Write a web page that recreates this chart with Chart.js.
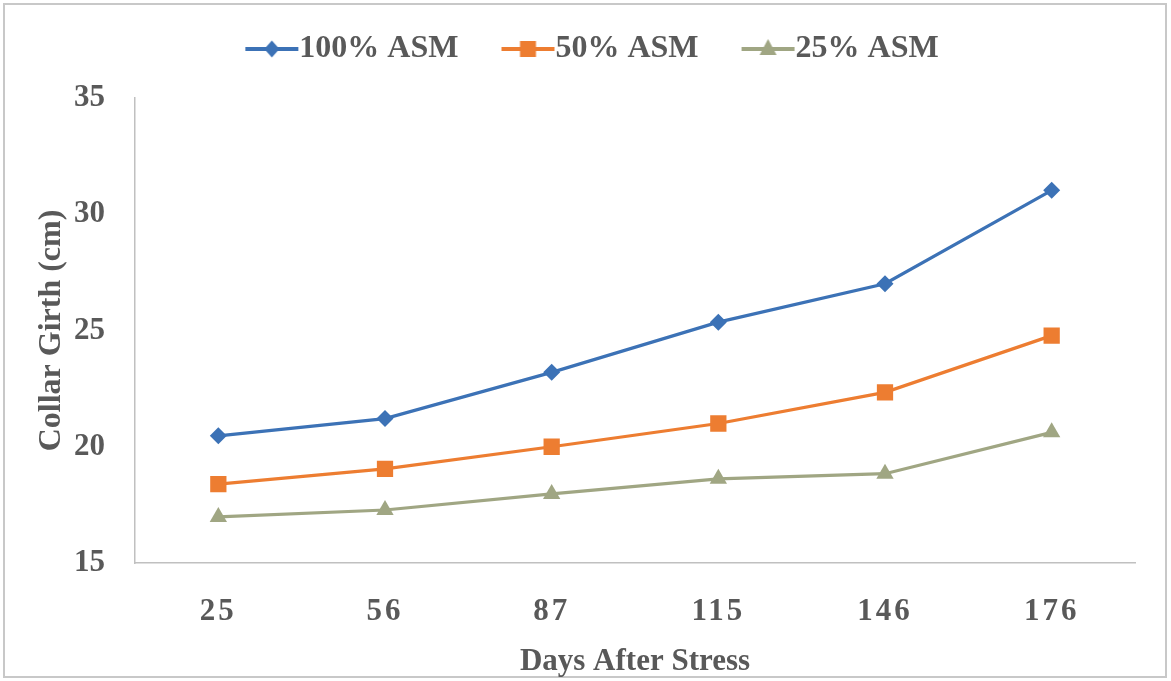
<!DOCTYPE html>
<html>
<head>
<meta charset="utf-8">
<script src="https://cdn.jsdelivr.net/npm/chart.js@4.4.1/dist/chart.umd.min.js"></script>
<style>
html,body{margin:0;padding:0;background:#fff;}
#wrap{width:1171px;height:681px;position:relative;}
</style>
</head>
<body>
<div id="wrap"><canvas id="c" width="1171" height="681"></canvas></div>
<script>
const categories = ['25', '56', '87', '115', '146', '176'];
const seriesNames = ['100% ASM', '50% ASM', '25% ASM'];
const asm100 = [20.47, 21.21, 23.2, 25.36, 27.01, 31.03];
const asm50 = [18.39, 19.05, 20.0, 21.0, 22.34, 24.78];
const asm25 = [16.98, 17.28, 17.97, 18.62, 18.84, 20.62];
const yTicks = [15, 20, 25, 30, 35];

const colors = ['#3C72B6', '#ED7D31', '#A0A683'];
const styles = ['rectRot', 'rect', 'triangle'];
const radii = [8.5, 11.5, 10];
const FONT = "'Liberation Serif', 'Times New Roman', serif";
const TXT = '#595959';
const LEG_W = 51;            // pointStyleWidth
const LEG_I = LEG_W + 32;    // icon image width

function legendIcon(color, style) {
  const c = document.createElement('canvas');
  c.width = LEG_I; c.height = 24;
  const ctx = c.getContext('2d');
  const x1 = LEG_I - 1, x0 = x1 - 53, cy = 12;
  ctx.strokeStyle = color; ctx.lineWidth = 4;
  ctx.beginPath(); ctx.moveTo(x0, cy); ctx.lineTo(x1, cy); ctx.stroke();
  ctx.fillStyle = color;
  const cx = (x0 + x1) / 2;
  ctx.beginPath();
  if (style === 'rectRot') { ctx.moveTo(cx, cy-8.5); ctx.lineTo(cx+7.5, cy); ctx.lineTo(cx, cy+8.5); ctx.lineTo(cx-7.5, cy); }
  else if (style === 'rect') { ctx.rect(cx-8, cy-8, 16, 16); }
  else { ctx.moveTo(cx, cy-10); ctx.lineTo(cx+8.5, cy+6); ctx.lineTo(cx-8.5, cy+6); }
  ctx.closePath(); ctx.fill();
  return c;
}

const seriesData = [asm100, asm50, asm25];
const datasets = seriesNames.map((n, i) => ({
  label: n,
  data: seriesData[i],
  borderColor: colors[i],
  backgroundColor: colors[i],
  borderWidth: 3.2,
  pointStyle: styles[i],
  pointRadius: radii[i],
  pointHoverRadius: radii[i],
  pointBorderWidth: 0,
  tension: 0,
  legendIcon: legendIcon(colors[i], styles[i])
}));

const borderPlugin = {
  id: 'frame',
  beforeDraw(chart) {
    const ctx = chart.ctx;
    ctx.save();
    ctx.fillStyle = '#fff';
    ctx.fillRect(0, 0, chart.width, chart.height);
    ctx.strokeStyle = '#c8c8c8';
    ctx.lineWidth = 2;
    ctx.strokeRect(4, 4, 1162, 673);
    ctx.restore();
  }
};

// empty gap between the legend and the plot
const spacerPlugin = {
  id: 'legendSpacer',
  beforeInit(chart) {
    Chart.layouts.addBox(chart, {
      position: 'top', weight: 0, fullSize: true, options: {},
      left: 0, top: 0, right: 0, bottom: 0, width: 0, height: 0,
      isHorizontal() { return true; },
      update(maxWidth) { this.width = maxWidth; this.height = 23; },
      draw() {}
    });
  }
};

const chart = new Chart(document.getElementById('c'), {
  type: 'line',
  data: { labels: categories, datasets },
  options: {
    responsive: false,
    animation: false,
    layout: { padding: { left: 36, right: 36, top: 3, bottom: 0 } },
    plugins: {
      tooltip: { enabled: false },
      legend: {
        position: 'top',
        labels: {
          usePointStyle: true,
          pointStyleWidth: LEG_W,
          boxHeight: 24,
          padding: 30,
          color: TXT,
          font: { family: FONT, size: 32, weight: 'bold' },
          generateLabels(chart) {
            return chart.data.datasets.map((d, i) => ({
              text: d.label,
              fillStyle: d.borderColor,
              strokeStyle: d.borderColor,
              lineWidth: 0,
              pointStyle: d.legendIcon,
              fontColor: TXT,
              datasetIndex: i,
              hidden: false
            }));
          }
        }
      }
    },
    scales: {
      x: {
        offset: true,
        grid: { display: false, drawTicks: false },
        border: { display: true, color: '#c0c0c0', width: 1.5 },
        ticks: { color: TXT, padding: 30, font: { family: FONT, size: 31, weight: 'bold' } },
        title: { display: true, text: 'Days After Stress', color: TXT, padding: { top: 8, bottom: 0 }, font: { family: FONT, size: 31, weight: 'bold' } },
        afterFit(s) { s.height = 118; }
      },
      y: {
        min: 15, max: 35,
        afterBuildTicks(s) { s.ticks = yTicks.map(v => ({ value: v })); },
        grid: { display: false, drawTicks: false },
        border: { display: true, color: '#c0c0c0', width: 1.5 },
        ticks: { color: TXT, padding: 30, font: { family: FONT, size: 31, weight: 'bold' } },
        title: { display: true, text: 'Collar Girth (cm)', color: TXT, padding: { top: 0, bottom: 0 }, font: { family: FONT, size: 32, weight: 'bold', lineHeight: 1.0 } },
        afterFit(s) { s.width = 99; }
      }
    }
  },
  plugins: [borderPlugin, spacerPlugin]
});

// spaced-out digits on the category axis, as in the original
const xs = chart.scales.x;
const origDrawLabels = xs.drawLabels.bind(xs);
xs.drawLabels = function (area) {
  const ctx = this.ctx;
  ctx.save();
  ctx.letterSpacing = '3px';
  origDrawLabels(area);
  ctx.restore();
};
chart.draw();
</script>
</body>
</html>
